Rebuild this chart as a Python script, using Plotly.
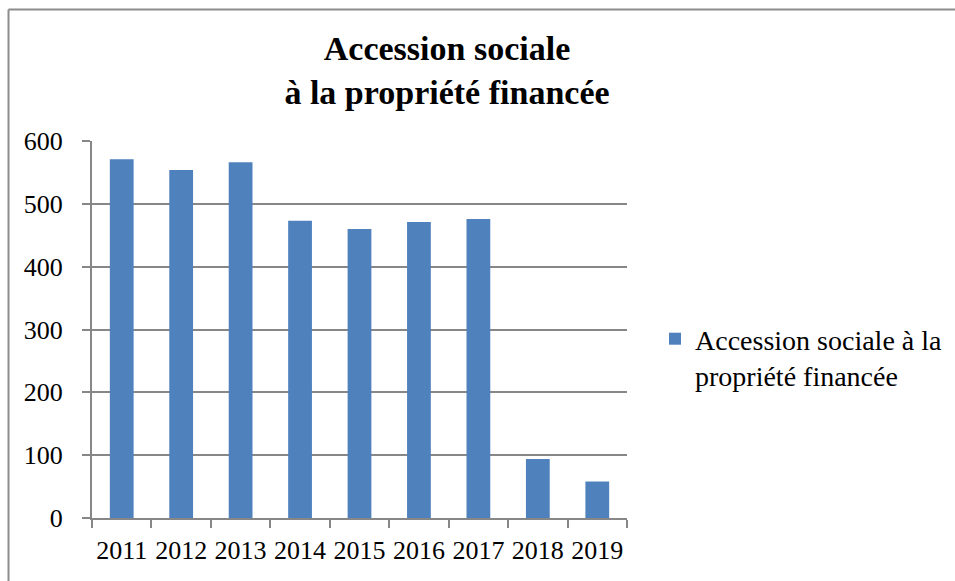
import plotly.graph_objects as go

years = ["2011", "2012", "2013", "2014", "2015", "2016", "2017", "2018", "2019"]
values = [571, 554, 566, 473, 460, 471, 476, 94, 58]
series_name = "Accession sociale à la<br>propriété financée"
title_text = "<b>Accession sociale<br>à la propriété financée</b>"
y_ticks = [0, 100, 200, 300, 400, 500, 600]

W, H = 955, 581
L, R, T, B = 92, 627, 141, 518  # plot area in pixels
FONT = "Liberation Serif"
GRID = "#878787"

fig = go.Figure()
fig.add_trace(go.Bar(
    x=years, y=values, name=series_name,
    marker=dict(color="#4F81BD", line=dict(width=0)),
    showlegend=True,
))

def px_x(p):
    return (p - L) / (R - L)

def px_y(p):
    return (B - p) / (B - T)

# chart frame (left and top edges)
fx, fy = px_x(8.5), px_y(9.5)
fig.add_shape(type="line", xref="paper", yref="paper", x0=fx, x1=fx, y0=px_y(600), y1=fy,
              line=dict(color="#8c8c8c", width=2))
fig.add_shape(type="line", xref="paper", yref="paper", x0=fx, x1=px_x(1000), y0=fy, y1=fy,
              line=dict(color="#8c8c8c", width=2))

fig.update_layout(
    width=W, height=H,
    margin=dict(l=L, r=W - R, t=T, b=H - B, pad=0, autoexpand=False),
    paper_bgcolor="white", plot_bgcolor="white",
    bargap=0.6,
    font=dict(family=FONT, size=26, color="black"),
    title=dict(text=title_text, x=447 / W, xanchor="center",
               y=1 - 60 / H, yanchor="top",
               font=dict(family=FONT, size=34, color="black")),
    legend=dict(x=px_x(655), y=px_y(314), xanchor="left", yanchor="top",
                font=dict(family=FONT, size=28, color="black"),
                valign="top", itemwidth=30, bgcolor="rgba(0,0,0,0)",
                tracegroupgap=0),
    xaxis=dict(
        showgrid=False, showline=True, linecolor=GRID, linewidth=2,
        ticks="outside", ticklen=8, tickcolor=GRID, tickwidth=2,
        tickson="boundaries", tickfont=dict(family=FONT, size=26),
        tickangle=0, automargin=False, ticklabelstandoff=8,
        fixedrange=True,
    ),
    yaxis=dict(
        range=[0, 600], tickvals=y_ticks, showgrid=True, gridcolor=GRID, gridwidth=2,
        showline=True, linecolor=GRID, linewidth=2, zeroline=False,
        ticks="outside", ticklen=8, tickcolor=GRID, tickwidth=2,
        tickfont=dict(family=FONT, size=26), ticklabelstandoff=14,
        automargin=False, fixedrange=True,
    ),
)

fig.write_html("out.html")
